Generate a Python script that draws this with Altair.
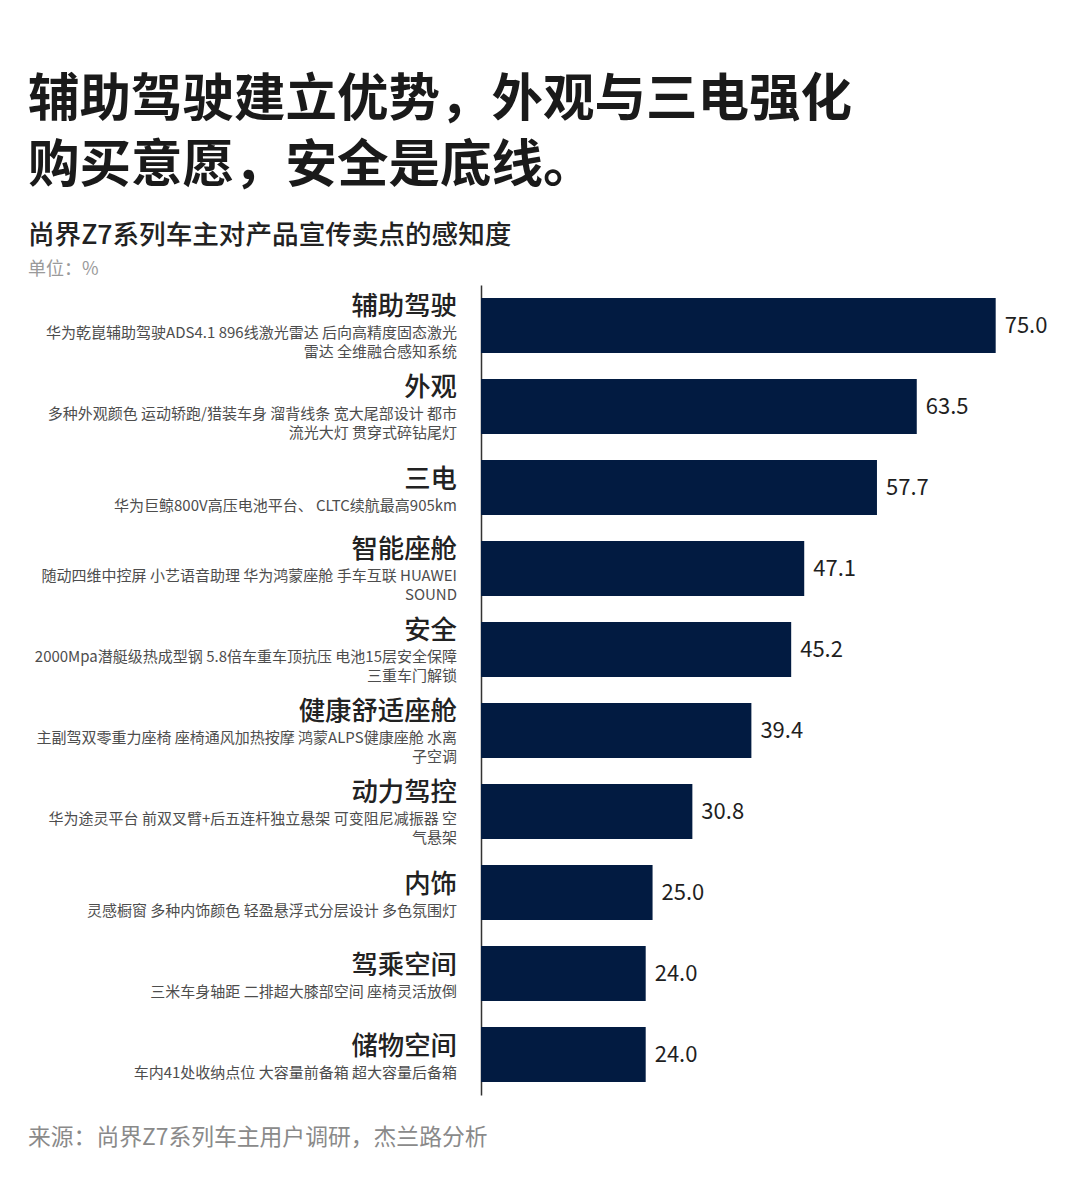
import altair as alt
import pandas as pd

TITLE_LINE1 = "辅助驾驶建立优势，外观与三电强化"
TITLE_LINE2 = "购买意愿，安全是底线。"
SUBTITLE = "尚界Z7系列车主对产品宣传卖点的感知度"
UNIT = "单位：%"
SOURCE = "来源：尚界Z7系列车主用户调研，杰兰路分析"

categories = ["辅助驾驶", "外观", "三电", "智能座舱", "安全",
              "健康舒适座舱", "动力驾控", "内饰", "驾乘空间", "储物空间"]
values = [75.0, 63.5, 57.7, 47.1, 45.2, 39.4, 30.8, 25.0, 24.0, 24.0]
descriptions = [
    ["华为乾崑辅助驾驶ADS4.1 896线激光雷达 后向高精度固态激光", "雷达 全维融合感知系统"],
    ["多种外观颜色 运动轿跑/猎装车身 溜背线条 宽大尾部设计 都市", "流光大灯 贯穿式碎钻尾灯"],
    ["华为巨鲸800V高压电池平台、 CLTC续航最高905km"],
    ["随动四维中控屏 小艺语音助理 华为鸿蒙座舱 手车互联 HUAWEI", "SOUND"],
    ["2000Mpa潜艇级热成型钢 5.8倍车重车顶抗压 电池15层安全保障", "三重车门解锁"],
    ["主副驾双零重力座椅 座椅通风加热按摩 鸿蒙ALPS健康座舱 水离", "子空调"],
    ["华为途灵平台 前双叉臂+后五连杆独立悬架 可变阻尼减振器 空", "气悬架"],
    ["灵感橱窗 多种内饰颜色 轻盈悬浮式分层设计 多色氛围灯"],
    ["三米车身轴距 二排超大膝部空间 座椅灵活放倒"],
    ["车内41处收纳点位 大容量前备箱 超大容量后备箱"],
]

FONT = "Noto Sans CJK SC"
BAR_COLOR = "#021b41"

df = pd.DataFrame({
    "cat": categories,
    "value": values,
    "line1": [d[0] for d in descriptions],
    "line2": [d[1] if len(d) > 1 else "" for d in descriptions],
    "nlines": [len(d) for d in descriptions],
})

y_enc = alt.Y("cat:N", sort=None,
              scale=alt.Scale(paddingInner=0.32, paddingOuter=0.16),
              axis=alt.Axis(title=None, labels=False, ticks=False, grid=False,
                            domain=True, domainColor="#333333", domainWidth=1.5))
x_enc = alt.X("value:Q", scale=alt.Scale(domain=[0, 80]), axis=None)

base = alt.Chart(df)

bars = base.mark_bar(color=BAR_COLOR).encode(x=x_enc, y=y_enc)

vals = base.mark_text(align="left", baseline="middle", dx=9, fontSize=22,
                      font=FONT, color="#1f1f1f").encode(
    x=x_enc, y=y_enc, text=alt.Text("value:Q", format=".1f"))

def label_layer(n, dy):
    return base.transform_filter(alt.datum.nlines == n).mark_text(
        align="right", baseline="middle", dy=dy, fontSize=26.4, fontWeight=500,
        font=FONT, color="#222222").encode(
        x=alt.value(-24), y=y_enc, text="cat:N")

def desc_layer(n, field, dy):
    return base.transform_filter(alt.datum.nlines == n).mark_text(
        align="right", baseline="middle", dy=dy, fontSize=15,
        font=FONT, color="#4d4d4d").encode(
        x=alt.value(-24), y=y_enc, text=f"{field}:N")

def free_text(txt, x, y, size, color, weight="normal"):
    return alt.Chart(pd.DataFrame({"t": [txt]})).mark_text(
        align="left", baseline="middle", fontSize=size, fontWeight=weight,
        font=FONT, color=color).encode(
        x=alt.value(x), y=alt.value(y), text="t:N")

chart = alt.layer(
    bars, vals,
    label_layer(1, -8), label_layer(2, -19),
    desc_layer(1, "line1", 18), desc_layer(2, "line1", 7), desc_layer(2, "line2", 26),
    free_text(TITLE_LINE1, -453, -184, 51.5, "#1a1a1a", "bold"),
    free_text(TITLE_LINE2, -453, -118, 51.5, "#1a1a1a", "bold"),
    free_text(SUBTITLE, -453, -49, 26.6, "#222222", 500),
    free_text(UNIT, -453, -15, 18, "#9a9a9a"),
    free_text(SOURCE, -453, 853, 22.8, "#8a8a8a"),
).properties(
    width=549, height=810,
    background="white",
    autosize=alt.AutoSizeParams(type="none"),
    padding={"left": 473, "top": 277, "right": 42, "bottom": 65},
).configure_view(stroke=None)

chart.save("out.html", embed_options={"renderer": "svg", "actions": False})
